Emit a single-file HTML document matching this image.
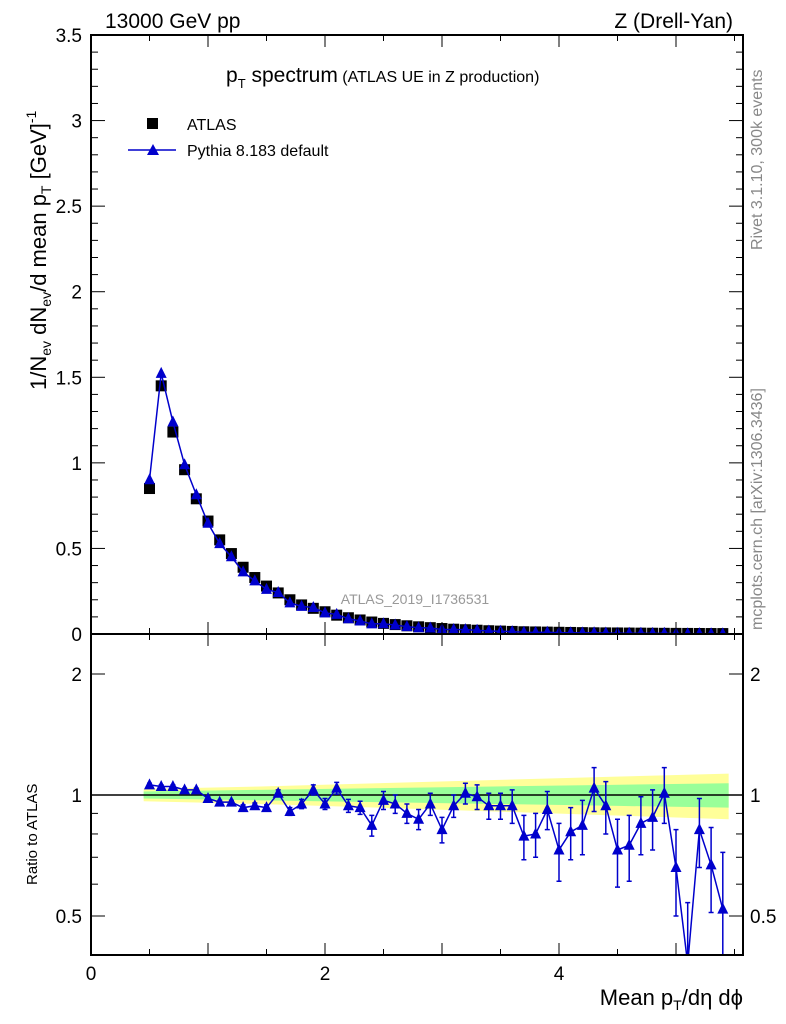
<!DOCTYPE html>
<html><head><meta charset="utf-8"><style>
body{margin:0;background:#fff;}
svg{display:block;font-family:"Liberation Sans",sans-serif;}
</style></head><body>
<svg id="c" width="786" height="1024" viewBox="0 0 786 1024">
<text x="105" y="28" font-size="21">13000 GeV pp</text>
<text x="733" y="28" font-size="21" text-anchor="end">Z (Drell-Yan)</text>
<text x="226" y="82" font-size="21">p<tspan font-size="13" dy="6">T</tspan><tspan dy="-6"> spectrum</tspan><tspan font-size="16"> (ATLAS UE in Z production)</tspan></text>
<text x="0" y="0" font-size="16" fill="#888" transform="translate(762,250) rotate(-90)">Rivet 3.1.10,  300k events</text>
<text x="0" y="0" font-size="16" fill="#888" transform="translate(762,630) rotate(-90)">mcplots.cern.ch [arXiv:1306.3436]</text>
<text x="415" y="604" font-size="14" fill="#999" text-anchor="middle">ATLAS_2019_I1736531</text>
<text x="0" y="0" font-size="22" transform="translate(46,390) rotate(-90)">1/N<tspan font-size="14" dy="5">ev</tspan><tspan dy="-5"> dN</tspan><tspan font-size="14" dy="5">ev</tspan><tspan dy="-5">/d mean p</tspan><tspan font-size="14" dy="5">T</tspan><tspan dy="-5">  [GeV]</tspan><tspan font-size="14" dy="-10">-1</tspan></text>
<text x="0" y="0" font-size="15" transform="translate(37,885) rotate(-90)">Ratio to ATLAS</text>
<text x="743" y="1005" font-size="22" text-anchor="end">Mean p<tspan font-size="14" dy="5">T</tspan><tspan dy="-5">/dη dϕ</tspan></text>
<g id="legend">
<rect x="147" y="118" width="11" height="11" fill="#000"/>
<text x="187" y="130" font-size="16">ATLAS</text>
<line x1="128" y1="150" x2="176" y2="150" stroke="#00c" stroke-width="1.5"/>
<path d="M147,155 L153,144 L159,155Z" fill="#00c"/>
<text x="187" y="156" font-size="16">Pythia 8.183 default</text>
</g>
<g id="plot"></g>
</svg>
<script>
const xs=[0.5,0.6,0.7,0.8,0.9,1.0,1.1,1.2,1.3,1.4,1.5,1.6,1.7,1.8,1.9,2.0,2.1,2.2,2.3,2.4,2.5,2.6,2.7,2.8,2.9,3.0,3.1,3.2,3.3,3.4,3.5,3.6,3.7,3.8,3.9,4.0,4.1,4.2,4.3,4.4,4.5,4.6,4.7,4.8,4.9,5.0,5.1,5.2,5.3,5.4];
const atlas=[0.85,1.45,1.18,0.96,0.79,0.66,0.55,0.47,0.39,0.33,0.28,0.24,0.2,0.17,0.15,0.13,0.11,0.095,0.082,0.07,0.062,0.055,0.048,0.042,0.037,0.032,0.028,0.025,0.022,0.019,0.017,0.015,0.013,0.012,0.011,0.01,0.009,0.008,0.007,0.0065,0.006,0.0055,0.005,0.0045,0.004,0.0036,0.0033,0.003,0.0027,0.0025];
const ratio=[1.06,1.05,1.05,1.03,1.03,0.98,0.96,0.96,0.93,0.94,0.93,1.01,0.91,0.95,1.03,0.95,1.04,0.94,0.93,0.84,0.97,0.95,0.90,0.87,0.95,0.82,0.94,1.01,0.99,0.94,0.94,0.94,0.79,0.80,0.92,0.73,0.81,0.84,1.04,0.94,0.73,0.75,0.85,0.88,1.01,0.66,0.38,0.82,0.67,0.52];
const ratioErr=[0.01,0.01,0.01,0.01,0.01,0.01,0.01,0.01,0.015,0.015,0.015,0.02,0.02,0.025,0.03,0.03,0.035,0.035,0.035,0.05,0.05,0.05,0.05,0.05,0.06,0.06,0.06,0.06,0.07,0.07,0.07,0.09,0.1,0.1,0.1,0.12,0.12,0.13,0.13,0.14,0.14,0.14,0.14,0.15,0.16,0.16,0.16,0.16,0.16,0.2];
const green=[0.02,0.03,0.04,0.05,0.06,0.07];
const yellow=[0.035,0.05,0.07,0.09,0.11,0.13];
const bandX=[0.45,1.45,2.45,3.45,4.45,5.45];
const xTicks=[0,2,4];
const yTicks=[0,0.5,1,1.5,2,2.5,3,3.5];
const rTicks=[0.5,1,2];

const NS="http://www.w3.org/2000/svg";
const g=document.getElementById('plot');
function el(t,a,p){const e=document.createElementNS(NS,t);for(const k in a)e.setAttribute(k,a[k]);(p||g).appendChild(e);return e;}
const L=91,R=743,T=35,M=634,B=955;
const X=v=>L+v*117;
const Y=v=>M-v*(M-T)/3.5;
const RY=v=>795-Math.log2(v)*121;
const defs=el('defs',{});
const cp=el('clipPath',{id:'rc'},defs);el('rect',{x:L,y:M,width:R-L,height:B-M},cp);
const cp2=el('clipPath',{id:'tc'},defs);el('rect',{x:L,y:T,width:R-L,height:M-T},cp2);
function band(arr,col,name){let up=bandX.map((x,i)=>X(x)+','+RY(1+arr[i]));let dn=bandX.map((x,i)=>X(x)+','+RY(1-arr[i])).reverse();
const p=el('polygon',{points:up.concat(dn).join(' '),fill:col});

}
band(yellow,'#ffff99','yellow-band');band(green,'#99ff99','green-band');
const ref=el('line',{x1:L,x2:R,y1:RY(1),y2:RY(1),stroke:'#000','stroke-width':1.5});


const tg=el('g',{'clip-path':'url(#tc)'});
xs.forEach((x,i)=>{const r=el('rect',{x:X(x)-5.5,y:Y(atlas[i])-5.5,width:11,height:11,fill:'#000'},tg);

});
const pl=el('polyline',{points:xs.map((x,i)=>X(x)+','+Y(atlas[i]*ratio[i])).join(' '),fill:'none',stroke:'#00c','stroke-width':1.5},tg);


xs.forEach((x,i)=>{const cx=X(x),cy=Y(atlas[i]*ratio[i]);const p=el('path',{d:`M${cx-5.5},${cy+4.5}L${cx},${cy-6.5}L${cx+5.5},${cy+4.5}Z`,fill:'#00c'},tg);

});
const rg=el('g',{'clip-path':'url(#rc)'});
const rl=el('polyline',{points:xs.map((x,i)=>X(x)+','+RY(ratio[i])).join(' '),fill:'none',stroke:'#00c','stroke-width':1.5},rg);


xs.forEach((x,i)=>{const cx=X(x),cy=RY(ratio[i]);const e=ratioErr[i];
const y1=RY(ratio[i]+e),y2=RY(Math.max(ratio[i]-e,0.05));
const eb=el('path',{d:`M${cx},${y1}V${y2}M${cx-2.5},${y1}h5M${cx-2.5},${y2}h5`,stroke:'#00c','stroke-width':1.5,fill:'none'},rg);


const p=el('path',{d:`M${cx-5.5},${cy+4.5}L${cx},${cy-6.5}L${cx+5.5},${cy+4.5}Z`,fill:'#00c'},rg);

});
const f1=el('rect',{x:L,y:T,width:R-L,height:M-T,fill:'none',stroke:'#000','stroke-width':2});


const f2=el('rect',{x:L,y:M,width:R-L,height:B-M,fill:'none',stroke:'#000','stroke-width':2});


for(let v=0;v<=5.5;v+=0.5){const maj=Math.abs(v-Math.round(v))<1e-6,len=maj?12:6,x=X(v);
[T,M].forEach(y0=>{el('line',{x1:x,x2:x,y1:y0,y2:y0+len,stroke:'#000'});});
[M,B].forEach(y0=>{el('line',{x1:x,x2:x,y1:y0,y2:y0-len,stroke:'#000'});});}
xTicks.forEach(v=>{const t=el('text',{x:X(v),y:980,'font-size':19,'text-anchor':'middle'});t.textContent=v;

});
for(let v=0;v<=3.5001;v+=0.1){const maj=Math.abs(v*2-Math.round(v*2))<1e-6,len=maj?14:7,y=Y(v);
el('line',{x1:L,x2:L+len,y1:y,y2:y,stroke:'#000'});el('line',{x1:R,x2:R-len,y1:y,y2:y,stroke:'#000'});}
yTicks.forEach(v=>{const t=el('text',{x:82,y:Y(v)+7,'font-size':19,'text-anchor':'end'});t.textContent=v;

});
[0.5,0.6,0.7,0.8,0.9,1,2].forEach(v=>{const maj=[0.5,1,2].includes(v),len=maj?14:7,y=RY(v);
el('line',{x1:L,x2:L+len,y1:y,y2:y,stroke:'#000'});el('line',{x1:R,x2:R-len,y1:y,y2:y,stroke:'#000'});});
rTicks.forEach(v=>{[[82,'end'],[750,'start']].forEach(([x,a])=>{const t=el('text',{x:x,y:RY(v)+7,'font-size':19,'text-anchor':a});t.textContent=v;

});});
</script>
</body></html>
